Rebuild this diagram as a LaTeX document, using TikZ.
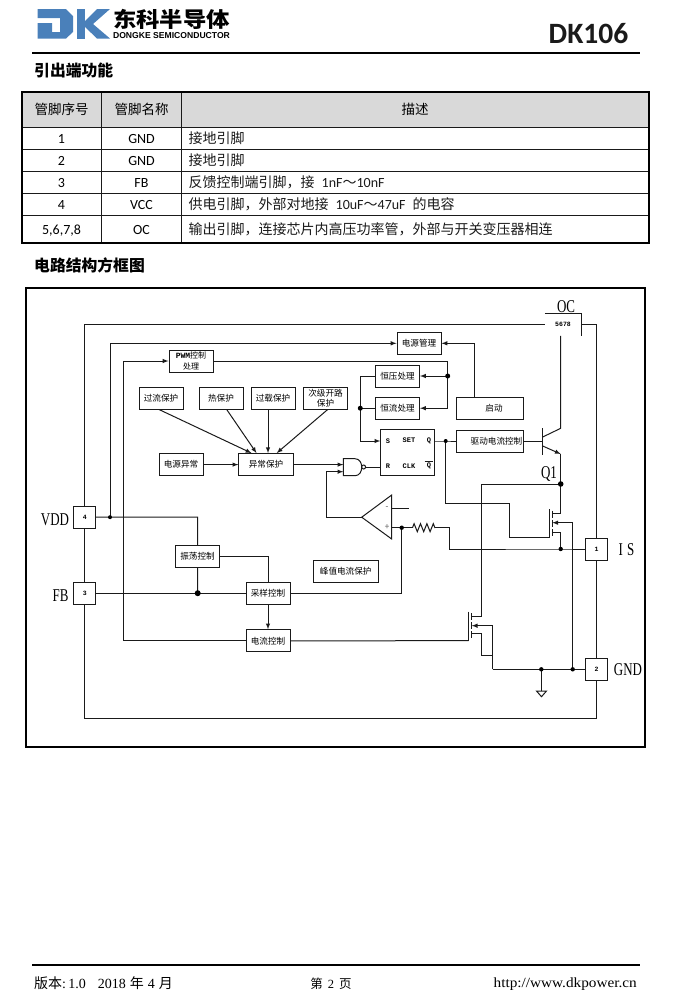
\documentclass[tikz,border=0pt]{standalone}
\usepackage{fontspec}
\setmainfont{Carlito}
\newfontfamily\cjkfont{Noto Sans CJK SC}
\newfontfamily\serfont{Liberation Serif}
\newfontfamily\arialfont{Liberation Sans}
\newfontfamily\monofont{Liberation Mono}
\newcommand{\zh}[1]{{\cjkfont #1}}
\newcommand{\thinser}[1]{\scalebox{0.72}[1]{\serfont #1}}
\usetikzlibrary{calc,positioning,decorations.pathmorphing}
\definecolor{dkblue}{HTML}{4A80BA}
\definecolor{inkgray}{HTML}{1A1A1A}

\begin{document}
\begin{tikzpicture}[x=1pt,y=-1pt,>=latex]
 \useasboundingbox (0,0) rectangle (683,1007);

\tikzstyle{wire}=[line width=1pt,draw=inkgray]
\tikzstyle{arrow}=[wire,->]
\tikzstyle{block}=[draw=inkgray,line width=1pt,inner sep=0pt,minimum width=44pt,minimum height=22pt,align=center,font=\cjkfont\fontsize{8.6}{11}\selectfont]
\tikzstyle{pin}=[block,minimum width=22pt,font=\monofont\bfseries\fontsize{6.5}{8}\selectfont]
\tikzstyle{pinname}=[inner sep=0pt,font=\fontsize{18}{20}\selectfont]
\tikzstyle{srtext}=[inner sep=0pt,font=\monofont\bfseries\fontsize{7}{8}\selectfont]
\tikzstyle{dot}=[fill=black]
\tikzstyle{cell}=[inner sep=0pt,text height=12.5pt,text depth=2pt,font=\fontsize{14}{16}\selectfont]
\tikzstyle{title}=[inner sep=0pt,anchor=west,font=\cjkfont\bfseries\fontsize{15.8}{18}\selectfont]
\tikzstyle{foot}=[inner sep=0pt,font=\serfont\fontsize{14}{16}\selectfont]

   %logo
   \fill[dkblue] (37.5,9) -- (66,9) -- (73,16) -- (73,32) -- (66,38.5) -- (37.5,38.5) -- (37.5,23) -- (52,23) -- (52,32) -- (60,32) -- (60,18) -- (37.5,18) -- cycle;
   \fill[dkblue] (76.5,9) rectangle (85,38.5);
   \fill[dkblue] (85,21) -- (97,9) -- (110,9) -- (93,24) -- (110,38.5) -- (97,38.5) -- (85,27) -- cycle;
   \node (brand) at (171.5,19.5) [inner sep=0pt,font=\cjkfont\bfseries\fontsize{23.4}{25}\selectfont] {\scalebox{1}[0.9]{东科半导体}};
   \node (brand_en) at (171.5,36) [inner sep=0pt,font=\arialfont\bfseries\fontsize{8.6}{10}\selectfont] {DONGKE SEMICONDUCTOR};
   \node (part) at (588.5,34) [inner sep=0pt,text=inkgray,font=\bfseries\fontsize{29.5}{31}\selectfont] {DK106};
   \draw[line width=2pt] (32,53) -- (640,53);

   %pin table
   \node (pintitle) at (34,70.5) [title] {引出端功能};
   \fill[gray!30] (22,91.5) rectangle (649,127);
   \foreach \ypos in {127,149.3,171.5,193.3,215.3}
     \draw[wire] (22,\ypos) -- (649,\ypos);
   \draw[wire] (101.5,91.5) -- (101.5,242.5);
   \draw[wire] (181.3,91.5) -- (181.3,242.5);
   \draw[line width=2pt] (22,91.5) rectangle (649,242.5);
   \node (head_no) at (61.5,109) [cell,font=\cjkfont\fontsize{13.5}{15}\selectfont] {管脚序号};
   \node (head_name) at (141.5,109) [cell,font=\cjkfont\fontsize{13.5}{15}\selectfont] {管脚名称};
   \node (head_desc) at (415,109) [cell,font=\cjkfont\fontsize{13.5}{15}\selectfont] {描述};
   \foreach \ypos/\pinno/\pinlab/\pindesc [count=\rowi] in {
     138.5/1/GND/{\zh{接地引脚}},
     160.5/2/GND/{\zh{接地引脚}},
     182.5/3/FB/{\zh{反馈控制端引脚，接}\hspace{7pt}1nF\zh{～}10nF},
     204.5/4/VCC/{\zh{供电引脚，外部对地接}\hspace{7pt}10uF\zh{～}47uF\hspace{7pt}\zh{的电容}},
     229.5/{5,6,7,8}/OC/{\zh{输出引脚，连接芯片内高压功率管，外部与开关变压器相连}}}{
     \node (no\rowi) at (61.5,\ypos) [cell] {\pinno};
     \node (name\rowi) at (141.5,\ypos) [cell] {\pinlab};
     \node (desc\rowi) at (188.5,\ypos) [cell,anchor=west,text=inkgray] {\pindesc};
   }

   %block diagram frame
   \node (blocktitle) at (34,265.5) [title] {电路结构方框图};
   \draw[line width=2pt] (26,287.5) rectangle (645,747);

   %pins
   \node (pinfour) at (84.7,517) [pin] {4};
   \node (pinthree) at (84.7,593.2) [pin] {3};
   \node (pinone) at (596.5,549) [pin] {1};
   \node (pintwo) at (596.5,669.3) [pin] {2};
   \node (oc) at (563,324.5) [inner sep=0pt,minimum width=36pt,minimum height=22.5pt,font=\monofont\bfseries\fontsize{6.5}{8}\selectfont] {5678};
   \draw[wire] (oc.north west) -- (oc.north east) -- (oc.south east);
   \node (vdd_label) at (55,520) [pinname] {\thinser{VDD}};
   \node (fb_label) at (60.5,596) [pinname] {\thinser{FB}};
   \node (is_label) at (626.5,549.5) [pinname] {\thinser{I\,\,S}};
   \node (gnd_label) at (628,669.5) [pinname] {\thinser{GND}};
   \node (oc_label) at (566,306.5) [pinname] {\thinser{OC}};
   \node (q1_label) at (549,474) [pinname] {\thinser{Q1}};

   %blocks
   \node (pwm) at (191,361) [block,font=\cjkfont\fontsize{8}{10.5}\selectfont] {{\monofont\bfseries PWM}控制\\处理};
   \node (pmgmt) at (419,343.3) [block] {电源管理};
   \node (ocp) at (161,398) [block] {过流保护};
   \node (otp) at (221,398) [block] {热保护};
   \node (olp) at (273,398) [block] {过载保护};
   \node (sop) at (325.5,398) [block,font=\cjkfont\fontsize{8.6}{10}\selectfont] {次级开路\\保护};
   \node (cvbox) at (397.5,376) [block] {恒压处理};
   \node (ccbox) at (397.5,408.2) [block] {恒流处理};
   \node (start) at (490,408.2) [block,minimum width=67.4pt] {\hspace{8pt}启动};
   \node (drive) at (490,441) [block,minimum width=67.4pt] {\hspace{13pt}驱动电流控制};
   \node (pwrerr) at (181,464.6) [block] {电源异常};
   \node (abnormal) at (266,464.6) [block,minimum width=54.4pt] {异常保护};
   \node (sr) at (407.5,452.6) [draw=inkgray,line width=1pt,minimum width=54.4pt,minimum height=45.3pt] {};
   \node (osc) at (197.5,556.5) [block] {振荡控制};
   \node (sample) at (268,593.2) [block] {采样控制};
   \node (current) at (268,640.8) [block] {电流控制};
   \node (peak) at (345.7,571) [block,minimum width=65.4pt] {峰值电流保护};

   %flip flop texts
   \node (sr_s) at (388,441) [srtext] {S};
   \node (sr_set) at (409,440) [srtext] {SET};
   \node (sr_q) at (429,441) [srtext] {Q};
   \node (sr_r) at (388,466) [srtext] {R};
   \node (sr_clk) at (409,466) [srtext] {CLK};
   \node (sr_qn) at (429,466) [srtext] {Q};
   \draw[wire] ([yshift=1.5pt,xshift=-2pt]sr_qn.north west) -- ([yshift=1.5pt,xshift=2pt]sr_qn.north east);

   %junctions
   \coordinate (vddjoint) at (110,517.2);
   \coordinate (pwmleft) at (123,361);
   \coordinate (cvjoint) at (447.7,376);
   \coordinate (busjoint) at (360.3,408.2);
   \coordinate (srset) at (380.3,441);
   \coordinate (srreset) at (380.3,467);
   \coordinate (qjoint) at (445.7,441);
   \coordinate (qbase) at (542.7,441);
   \coordinate (qcoll) at (560.7,428.3);
   \coordinate (q1joint) at (560.7,484);
   \coordinate (nanda) at (343.3,464.6);
   \coordinate (nandb) at (343.3,471.7);
   \coordinate (nandout) at (365.6,467);
   \coordinate (cmptip) at (361.7,517.2);
   \coordinate (cmptop) at (391.7,495);
   \coordinate (cmpbot) at (391.7,539);
   \coordinate (cmpturn) at (326.7,517.2);
   \coordinate (cmpminus) at (391.7,508);
   \coordinate (cmpminusend) at (409,508);
   \coordinate (ispjoint) at (401.7,527.7);
   \coordinate (resl) at (412.5,527.7);
   \coordinate (resr) at (435,527.7);
   \coordinate (resturn) at (449.3,527.7);
   \coordinate (isjoint) at (560.7,549);
   \coordinate (fbjoint) at (197.7,593.2);
   \coordinate (botright) at (596.5,718);
   \coordinate (ugturn) at (509.3,503.3);
   \coordinate (ugate) at (549.3,537.7);
   \coordinate (udrain) at (552.3,513.7);
   \coordinate (usource) at (552.3,532.3);
   \coordinate (ubody) at (552.3,522.7);
   \coordinate (lgate) at (468.7,640.7);
   \coordinate (ldrain) at (471.7,616);
   \coordinate (lsource) at (471.7,633.7);
   \coordinate (lbody) at (471.7,625.7);
   \coordinate (lstrap) at (492.7,655.3);
   \coordinate (gnds) at (492.7,669.3);
   \coordinate (gndjoint) at (541.3,669.3);
   \coordinate (gndtop) at (541.3,691);
   \coordinate (bodyjoint) at (572.7,669.3);

   %outer ring
   \draw[wire] (pinfour.north) |- (oc.west);
   \draw[wire] (pinfour.south) -- (pinthree.north);
   \draw[wire] (pinthree.south) |- (botright) -- (pintwo.south);
   \draw[wire] (pintwo.north) -- (pinone.south);
   \draw[wire] (pinone.north) |- (oc.east);

   %supply and pwm
   \draw[wire] (pinfour.east) -- (vddjoint) -| (osc.north);
   \draw[arrow] (vddjoint) |- (pmgmt.west);
   \draw[arrow] (current.west) -| (pwmleft) -- (pwm.west);
   \draw[wire] (pwm.east) -| (cvjoint);
   \draw[arrow] (cvjoint) -- (cvbox.east);
   \draw[arrow] (cvjoint) |- (ccbox.east);
   \draw[wire] (cvbox.west) -| (busjoint);
   \draw[wire] (ccbox.west) -- (busjoint);
   \draw[arrow] (busjoint) |- (srset);
   \draw[arrow] ([xshift=-15.3pt]start.north) |- (pmgmt.east);

   %protections
   \draw[arrow] ([xshift=-2pt]ocp.south) -- ([xshift=-14.5pt]abnormal.north);
   \draw[arrow] ([xshift=5.7pt]otp.south) -- ([xshift=-9.5pt]abnormal.north);
   \draw[arrow] ([xshift=-5pt]olp.south) -- ([xshift=2pt]abnormal.north);
   \draw[arrow] ([xshift=2.2pt]sop.south) -- ([xshift=10.7pt]abnormal.north);
   \draw[arrow] (pwrerr.east) -- (abnormal.west);
   \draw[arrow] (abnormal.east) -- (nanda);

   %nand gate
   \draw[wire] (343.3,458.7) -- (355,458.7) .. controls (364,458.7) and (364,475.7) .. (355,475.7) -- (343.3,475.7) -- cycle;
   \draw[wire] (363.6,467) circle [radius=2];
   \draw[wire] (nandout) -- (srreset);

   %driver and q1
   \draw[wire] (sr.east |- qjoint) -- (qjoint) -- (drive.west);
   \draw[wire] (drive.east) -- (qbase);
   \draw[line width=1.2pt,draw=inkgray] (542.7,428) -- (542.7,455);
   \draw[wire] (542.7,437) -- (qcoll) -- (qcoll |- oc.south);
   \draw[arrow] (542.7,446) -- (560.7,454);
   \draw[wire] (560.7,454) -- (q1joint);

   %comparator
   \draw[wire] (cmptip) -- (cmptop) -- (cmpbot) -- cycle;
   \node (cmp_minus) at (387,508) [inner sep=0pt,text=inkgray!70,font=\fontsize{9}{10}\selectfont] {-};
   \node (cmp_plus) at (387,527.5) [inner sep=0pt,text=inkgray!70,font=\fontsize{9}{10}\selectfont] {+};
   \draw[wire] (cmpminus) -- (cmpminusend);
   \draw[arrow] (cmptip) -- (cmpturn) |- (nandb);
   \draw[wire] (391.7,527.7) -- (ispjoint) -- (resl);
   \draw[wire,decorate,decoration={zigzag,segment length=6.4pt,amplitude=4pt}] (resl) -- (resr);
   \draw[wire] (resr) -- (resturn) |- (isjoint) -- (pinone.west);
   \draw[wire] (ispjoint) |- (sample.east);

   %fb and sampling
   \draw[wire] (pinthree.east) -- (fbjoint) -- (sample.west);
   \draw[wire] (osc.south) -- (fbjoint);
   \draw[wire] (osc.east) -| (sample.north);
   \draw[arrow] (sample.south) -- (current.north);

   %upper mos
   \draw[wire] (qjoint) |- (ugturn) |- (ugate);
   \draw[line width=1.2pt,draw=inkgray] (549.3,509) -- (ugate);
   \foreach \ytop in {510.5,519.5,529}
     \draw[line width=1.2pt,draw=inkgray] (552.3,\ytop) -- ++(0,7);
   \draw[wire] (udrain) -| (q1joint);
   \draw[wire] (usource) -| (isjoint);
   \draw[arrow] (bodyjoint) |- (ubody);

   %lower mos
   \draw[wire] (current.east) -- (lgate);
   \draw[line width=1.2pt,draw=inkgray] (468.7,611.7) -- (lgate);
   \foreach \ytop in {613,622,631}
     \draw[line width=1.2pt,draw=inkgray] (471.7,\ytop) -- ++(0,7);
   \draw[wire] (ldrain) -- ++(9.3,0) |- (q1joint);
   \draw[wire] (lsource) -- ++(9.3,0) |- (lstrap);
   \draw[arrow] (gnds) |- (lbody);
   \draw[wire] (gnds) -- (gndjoint) -- (bodyjoint) -- (pintwo.west);
   \draw[wire] (gndjoint) -- (gndtop);
   \draw[wire] (536.5,691) -- (546.5,691) -- (541.5,696.7) -- cycle;

   %dots
   \fill[dot] (vddjoint) circle [radius=2];
   \fill[dot] (cvjoint) circle [radius=2.5];
   \fill[dot] (busjoint) circle [radius=2.5];
   \fill[dot] (qjoint) circle [radius=2];
   \fill[dot] (q1joint) circle [radius=2.8];
   \fill[dot] (ispjoint) circle [radius=2.2];
   \fill[dot] (isjoint) circle [radius=2.2];
   \fill[dot] (fbjoint) circle [radius=3];
   \fill[dot] (gndjoint) circle [radius=2.2];
   \fill[dot] (bodyjoint) circle [radius=2.2];

   %footer
   \draw[line width=2pt] (32,965) -- (640,965);
   \node (version) at (34,983.5) [foot,anchor=west] {\zh{版本}:\,1.0\hspace{12pt}2018\hspace{4pt}\zh{年}\hspace{4pt}4\hspace{4pt}\zh{月}};
   \node (pageno) at (331,983.5) [foot,font=\serfont\fontsize{12.5}{14}\selectfont] {\zh{第}\hspace{5pt}2\hspace{5pt}\zh{页}};
   \node (website) at (637,984) [foot,anchor=east] {\scalebox{1.09}[1]{http://www.dkpower.cn}};

\end{tikzpicture}
\end{document}
